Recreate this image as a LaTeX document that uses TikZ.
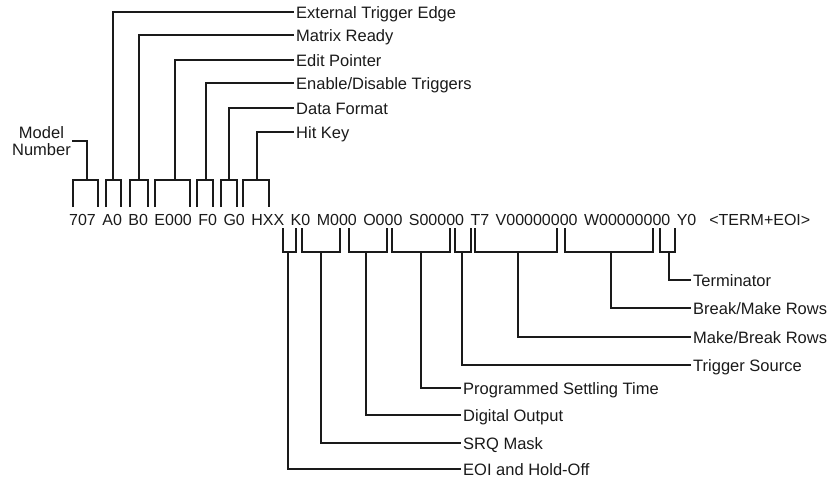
\documentclass[tikz,border=0pt]{standalone}
\usepackage{fontspec}
\setmainfont{Liberation Sans}
\newfontfamily\cmdfont[WordSpace=1.46]{Liberation Sans}
\definecolor{ink}{HTML}{1A1A1A}

\begin{document}
\begin{tikzpicture}[
  x=1pt, y=-1pt,
  cmd/.style   = {anchor=base west, inner sep=0pt, text=ink,
                  font=\cmdfont\fontsize{16}{17}\selectfont},
  field/.style = {anchor=west, inner xsep=2pt, inner ysep=0pt, text=ink,
                  text height=13pt, text depth=0pt,
                  font=\fontsize{16.5}{17}\selectfont},
  lead/.style  = {draw=ink, line width=1.2pt},
]
\useasboundingbox (0,0) rectangle (832,482);

\node[cmd] (cmd) at (69,225)
  {707 A0 B0 E000 F0 G0 HXX K0 M000 O000 S00000 T7 V00000000 W00000000 Y0\ \ <TERM+EOI>};

\node[field, anchor=east, align=center, text height=, inner xsep=1pt] (model) at (72,141) {Model\\Number};
\node[field] (edge)   at (294,12)  {External Trigger Edge};
\node[field] (ready)  at (294,35)  {Matrix Ready};
\node[field] (edit)   at (294,60)  {Edit Pointer};
\node[field] (trig)   at (294,83)  {Enable/Disable Triggers};
\node[field] (fmt)    at (294,108) {Data Format};
\node[field] (hit)    at (294,132) {Hit Key};

\node[field] (term)   at (691,280) {Terminator};
\node[field] (brk)    at (691,308) {Break/Make Rows};
\node[field] (mk)     at (691,337) {Make/Break Rows};
\node[field] (src)    at (691,365) {Trigger Source};
\node[field] (settle) at (461,388) {Programmed Settling Time};
\node[field] (dout)   at (461,415) {Digital Output};
\node[field] (srq)    at (461,443) {SRQ Mask};
\node[field] (eoi)    at (461,469) {EOI and Hold-Off};

\coordinate (s707) at (87,180);
\coordinate (sA)   at (113,180);
\coordinate (sB)   at (139,180);
\coordinate (sE)   at (175,180);
\coordinate (sF)   at (206,180);
\coordinate (sG)   at (229,180);
\coordinate (sH)   at (257,180);

\coordinate (sK)   at (288,252);
\coordinate (sM)   at (321,252);
\coordinate (sO)   at (366,252);
\coordinate (sS)   at (421,252);
\coordinate (sT)   at (462,252);
\coordinate (sV)   at (518,252);
\coordinate (sW)   at (611,252);
\coordinate (sY)   at (669,252);

\draw[lead] (73,207) |- (98,180) -- (98,207);
\draw[lead] (106,207) |- (121,180) -- (121,207);
\draw[lead] (130,207) |- (148,180) -- (148,207);
\draw[lead] (155,207) |- (190,180) -- (190,207);
\draw[lead] (197,207) |- (213,180) -- (213,207);
\draw[lead] (221,207) |- (237,180) -- (237,207);
\draw[lead] (243,207) |- (269,180) -- (269,207);

\draw[lead] (283,228) |- (296,252) -- (296,228);
\draw[lead] (302,228) |- (340,252) -- (340,228);
\draw[lead] (349,228) |- (387,252) -- (387,228);
\draw[lead] (392,228) |- (450,252) -- (450,228);
\draw[lead] (455,228) |- (471,252) -- (471,228);
\draw[lead] (475,228) |- (557,252) -- (557,228);
\draw[lead] (565,228) |- (653,252) -- (653,228);
\draw[lead] (660,228) |- (675,252) -- (675,228);

\draw[lead] (model.east) -| (s707);
\draw[lead] (sA) |- (edge.west);
\draw[lead] (sB) |- (ready.west);
\draw[lead] (sE) |- (edit.west);
\draw[lead] (sF) |- (trig.west);
\draw[lead] (sG) |- (fmt.west);
\draw[lead] (sH) |- (hit.west);

\draw[lead] (sY) |- (term.west);
\draw[lead] (sW) |- (brk.west);
\draw[lead] (sV) |- (mk.west);
\draw[lead] (sT) |- (src.west);
\draw[lead] (sS) |- (settle.west);
\draw[lead] (sO) |- (dout.west);
\draw[lead] (sM) |- (srq.west);
\draw[lead] (sK) |- (eoi.west);
\end{tikzpicture}
\end{document}
